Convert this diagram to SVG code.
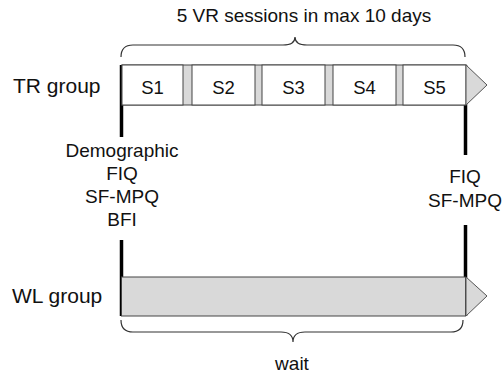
<svg xmlns="http://www.w3.org/2000/svg" width="503" height="376" viewBox="0 0 503 376">
  <style>
    text { font-family: "Liberation Sans", Arial, sans-serif; fill: #111; }
    .grp { font-size: 21px; }
    .lbl { font-size: 19px; text-anchor: middle; }
    .ses { font-size: 18.5px; text-anchor: middle; }
    .box { fill: #ffffff; stroke: #444; stroke-width: 1; }
    .gap { fill: #d9d9d9; stroke: #444; stroke-width: 1; }
    .bar { fill: #d9d9d9; stroke: #444; stroke-width: 1; }
    .head { fill: #d9d9d9; stroke: #555; stroke-width: 1; }
    .tick { stroke: #000; stroke-width: 3.5; fill: none; }
    .brace { fill: none; stroke: #333; stroke-width: 1.2; }
  </style>

  <rect width="503" height="376" fill="#ffffff"/>

  <!-- title over the session bar -->
  <text class="lbl" x="304" y="22">5 VR sessions in max 10 days</text>

  <g id="connectors">
    <!-- top brace spanning the sessions -->
    <path class="brace" d="M121,57 Q121,45 133,45 L283,45 Q295,45 295,37 Q295,45 307,45 L453,45 Q465,45 465,57"/>
    <!-- bottom brace under the waiting bar -->
    <path class="brace" d="M121,320 Q121,332 133,332 L281,332 Q293,332 293,342 Q293,332 305,332 L451,332 Q463,332 463,320"/>
    <!-- assessment time markers -->
    <line class="tick" x1="121.5" y1="65" x2="121.5" y2="137"/>
    <line class="tick" x1="121.5" y1="240" x2="121.5" y2="316"/>
    <line class="tick" x1="465.5" y1="65" x2="465.5" y2="155"/>
    <line class="tick" x1="465.5" y1="225" x2="465.5" y2="316"/>
  </g>

  <g id="tr-group">
    <text class="grp" x="13" y="93">TR group</text>
    <rect class="gap" x="122" y="65" width="344" height="40"/>
    <rect class="box" x="122" y="65" width="61" height="40"/>
    <rect class="box" x="192" y="65" width="63" height="40"/>
    <rect class="box" x="262" y="65" width="63" height="40"/>
    <rect class="box" x="333" y="65" width="63" height="40"/>
    <rect class="box" x="403" y="65" width="63" height="40"/>
    <polygon class="head" points="466,65 487,85 466,105"/>
    <text class="ses" x="152.5" y="94">S1</text>
    <text class="ses" x="223.5" y="94">S2</text>
    <text class="ses" x="293.5" y="94">S3</text>
    <text class="ses" x="364.5" y="94">S4</text>
    <text class="ses" x="434.5" y="94">S5</text>
  </g>

  <g id="baseline-measures">
    <text class="lbl" x="122" y="157">Demographic</text>
    <text class="lbl" x="122" y="180">FIQ</text>
    <text class="lbl" x="122" y="203">SF-MPQ</text>
    <text class="lbl" x="122" y="226">BFI</text>
  </g>

  <g id="post-measures">
    <text class="lbl" x="465" y="183">FIQ</text>
    <text class="lbl" x="465" y="207">SF-MPQ</text>
  </g>

  <g id="wl-group">
    <text class="grp" x="12" y="303">WL group</text>
    <rect class="bar" x="121.5" y="277" width="344" height="39"/>
    <polygon class="head" points="466,277 487,296 466,316"/>
  </g>

  <text class="lbl" x="292" y="370">wait</text>
</svg>
